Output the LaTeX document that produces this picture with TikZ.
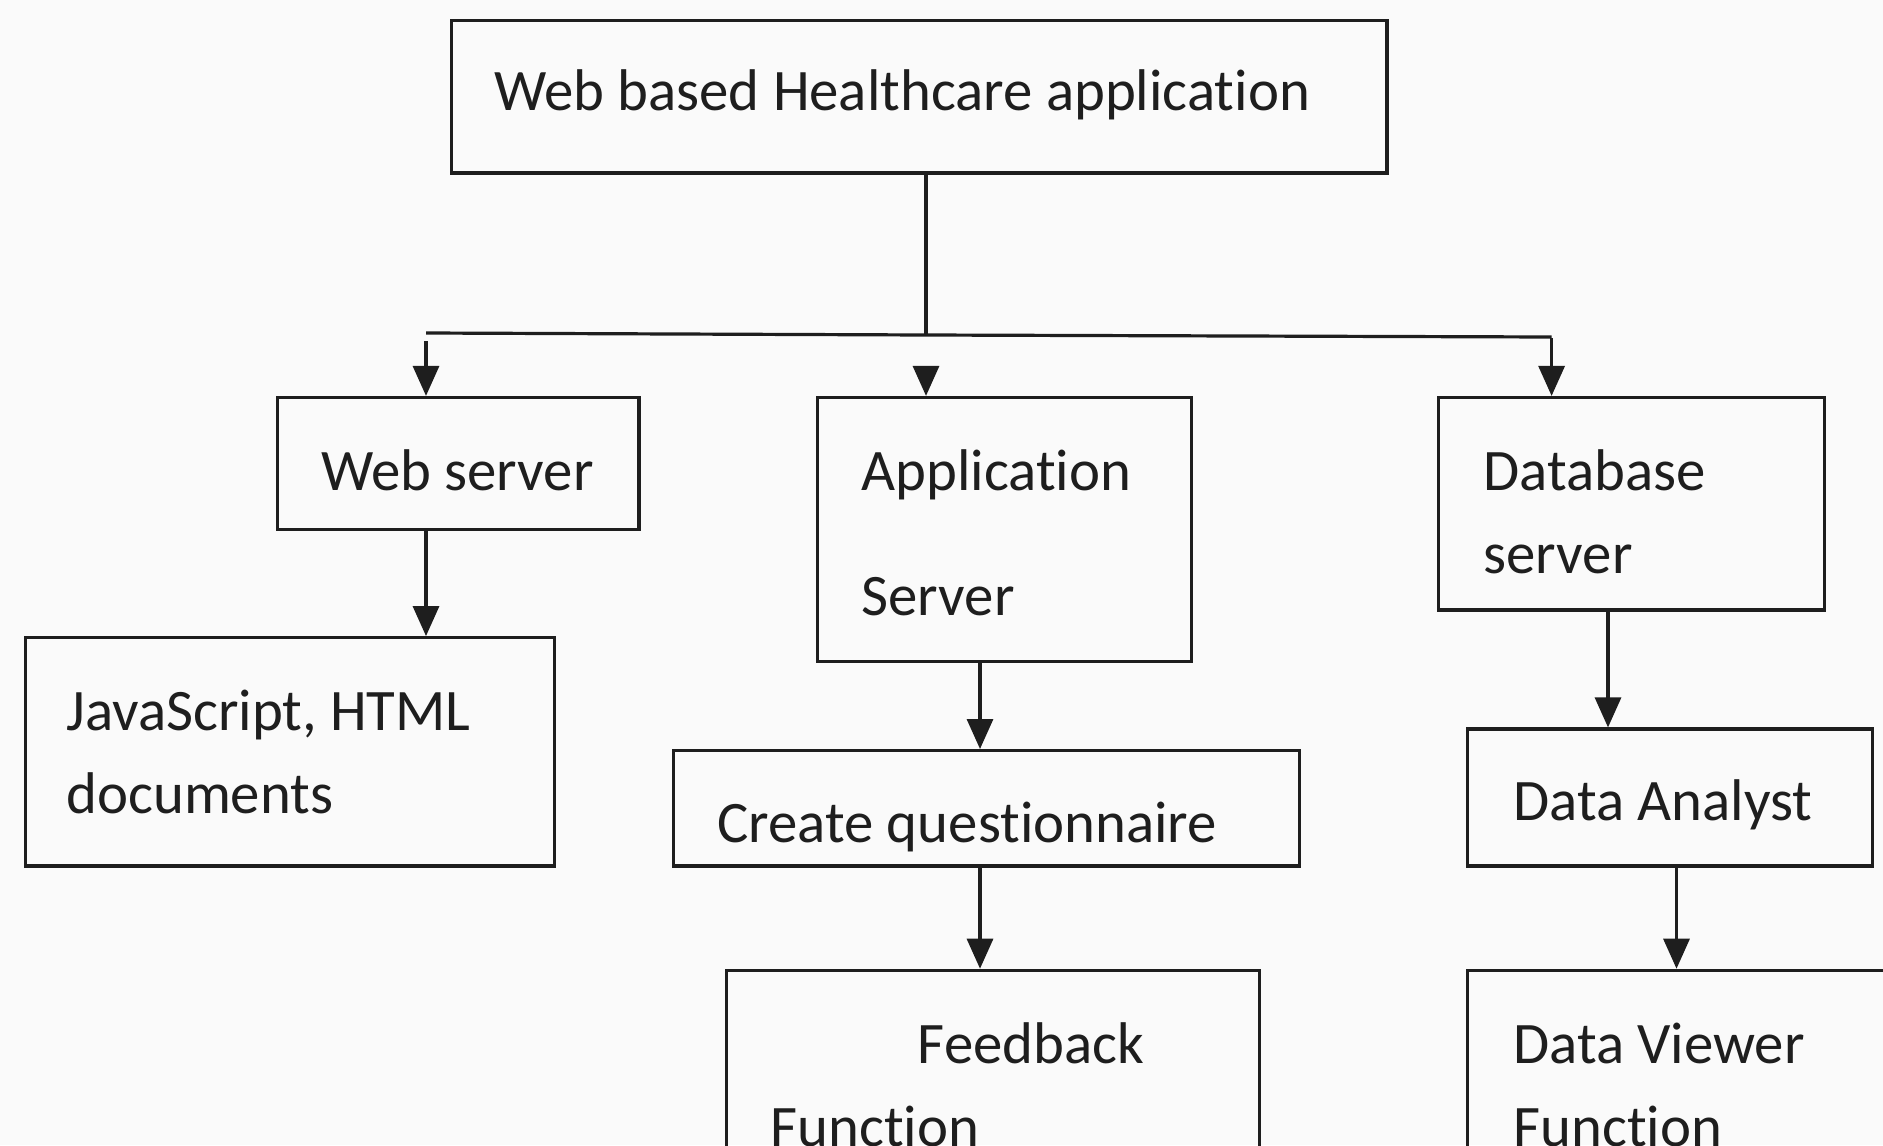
\documentclass[tikz,border=0pt]{standalone}
\usepackage{fontspec}
\setmainfont{Carlito}[Ligatures={NoCommon}]
\usetikzlibrary{arrows.meta,fit}
\definecolor{bg}{RGB}{250,250,250}
\definecolor{ink}{RGB}{30,30,30}
\begin{document}
\begin{tikzpicture}[x=0.5pt,y=-0.5pt,
  box/.style={draw=ink,line width=1.6pt,inner sep=0pt,rectangle},
  lbl/.style={anchor=base west,inner sep=0pt,text=ink,font=\fontsize{29.4}{34}\selectfont},
  arr/.style={draw=ink,line width=1.6pt,-{Triangle[length=15pt,width=13pt]}},
  ln/.style={draw=ink,line width=1.6pt}]
\useasboundingbox (0,0) rectangle (1883,1145);
\fill[bg] (0,0) rectangle (1883,1145);
\clip (0,0) rectangle (1883,1145);
% boxes
\node[box,fit={(451.5,20.4) (1387,173)}] (top) {};
\node[box,fit={(277.4,397.5) (638.9,529.6)}] (ws) {};
\node[box,fit={(817.8,397.5) (1191.3,661.7)}] (app) {};
\node[box,fit={(1438.7,397.5) (1824.2,610)}] (db) {};
\node[box,fit={(25.2,637.7) (554.8,865.9)}] (js) {};
\node[box,fit={(673.7,750.6) (1299.4,865.9)}] (cq) {};
\node[box,fit={(726.5,970.3) (1259.7,1220)}] (fb) {};
\node[box,fit={(1467.5,729) (1872.2,865.9)}] (da) {};
\node[box,fit={(1467.5,970.3) (1960,1220)}] (dv) {};
% texts
\node[lbl] (t1) at (493.6,111) {Web based Healthcare application};
\node[lbl] (t2) at (320.6,490) {Web server};
\node[lbl] (t3) at (861,490) {Application};
\node[lbl] (t4) at (861,615) {Server};
\node[lbl] (t5) at (1483,490) {Database};
\node[lbl] (t6) at (1483,573) {server};
\node[lbl] (t7) at (66,730) {JavaScript, HTML};
\node[lbl] (t8) at (66,813) {documents};
\node[lbl] (t9) at (717,842) {Create questionnaire};
\node[lbl] (t10) at (1513,820) {Data Analyst};
\node[lbl] (t11) at (917.5,1063) {Feedback};
\node[lbl] (t12) at (770,1146) {Function};
\node[lbl] (t13) at (1513,1063) {Data Viewer};
\node[lbl] (t14) at (1513,1146) {Function};
% connector coordinates
\coordinate (a1) at (426,0);
\coordinate (a2) at (926,0);
\coordinate (a3) at (1551.6,0);
\coordinate (a4) at (980,0);
\coordinate (a5) at (1608,0);
\coordinate (a6) at (1676.5,0);
\coordinate (busL) at (426,333);
\coordinate (busM) at (926,335);
\coordinate (busR) at (1551.6,337);
\coordinate (h1) at (426,341);
\coordinate (h2) at (926,367);
\coordinate (h3) at (1551.6,338);
% connectors
\draw[ln] (top.south -| a2) -- (busM);
\draw[ln] (busL) -- (busM) -- (busR);
\draw[arr] (h1) -- (ws.north -| a1);
\draw[arr] (h2) -- (app.north -| a2);
\draw[arr] (h3) -- (db.north -| a3);
\draw[arr] (ws.south -| a1) -- (js.north -| a1);
\draw[arr] (app.south -| a4) -- (cq.north -| a4);
\draw[arr] (cq.south -| a4) -- (fb.north -| a4);
\draw[arr] (db.south -| a5) -- (da.north -| a5);
\draw[arr] (da.south -| a6) -- (dv.north -| a6);
\end{tikzpicture}
\end{document}
